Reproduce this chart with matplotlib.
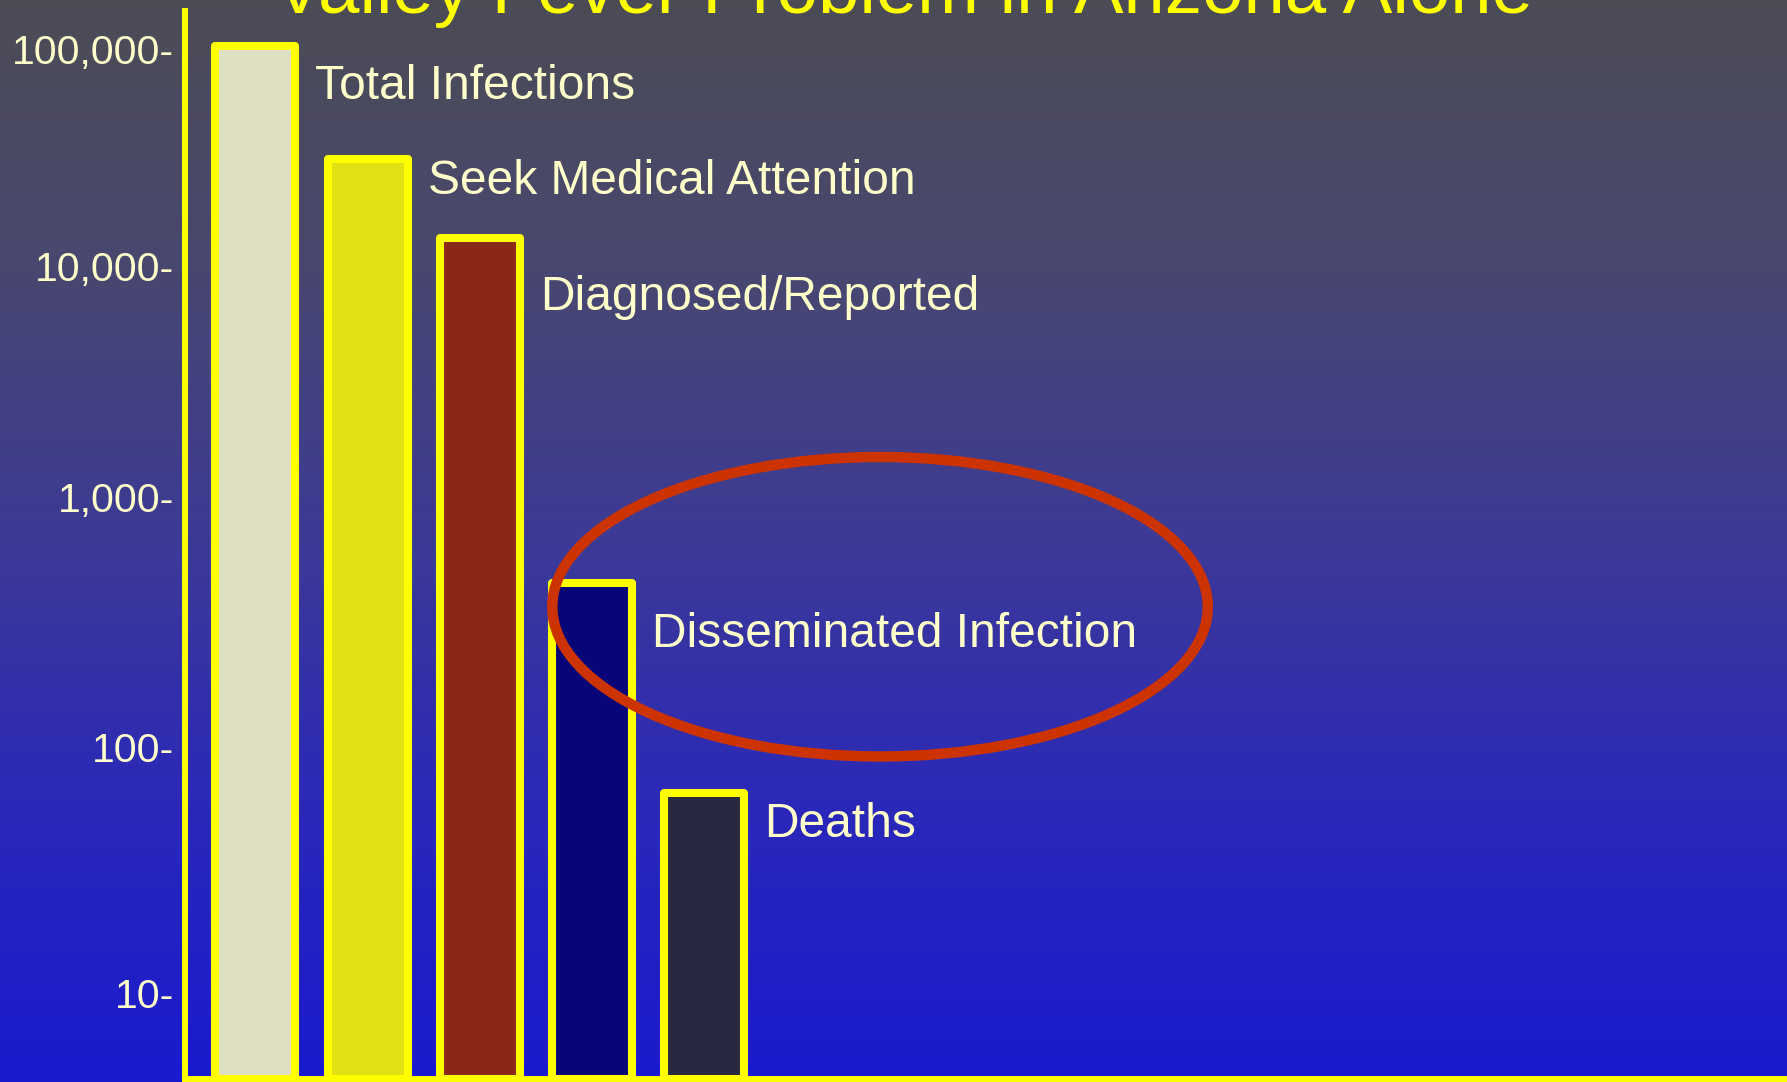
import numpy as np
import matplotlib
matplotlib.use("Agg")
import matplotlib.pyplot as plt
from matplotlib.patches import Ellipse
from matplotlib.colors import LinearSegmentedColormap
from matplotlib.ticker import NullLocator
from matplotlib.transforms import ScaledTranslation

plt.rcParams['font.family'] = ['Liberation Sans', 'DejaVu Sans']

# data
title = "Valley Fever Problem in Arizona Alone"
categories = ["Total Infections", "Seek Medical Attention", "Diagnosed/Reported",
              "Disseminated Infection", "Deaths"]
counts = [100000, 30000, 13000, 440, 63]
bar_colors = ["#DFDFC4", "#E0E014", "#8B2716", "#060678", "#282840"]
tick_values = [10, 100, 1000, 10000, 100000]

# the slide's log axis was drawn by hand and the decades are not evenly spaced,
# so log10(value) is mapped piecewise onto height (px above the baseline)
decades = [0, 1, 2, 3, 4, 5, 6]
decade_px = [-158, 88.5, 335, 585, 816.5, 1033, 1249.5]


def fwd(v):
    v = np.clip(np.asarray(v, dtype=float), 1e-3, None)
    return np.interp(np.log10(v), decades, decade_px)


def inv(h):
    return 10 ** np.interp(h, decade_px, decades)


W, H = 1787, 1082
fig = plt.figure(figsize=(W / 100, H / 100), dpi=100)

# background gradient (grey at the top, blue at the bottom)
stops = [(0.0, (76, 76, 86)), (0.25, (72, 71, 112)), (0.5, (60, 58, 150)),
         (0.75, (42, 40, 185)), (1.0, (26, 26, 207))]
cmap = LinearSegmentedColormap.from_list(
    "slide", [(p, tuple(c / 255 for c in rgb)) for p, rgb in stops])
bg = fig.add_axes([0, 0, 1, 1], zorder=0)
bg.imshow(np.linspace(0, 1, 512).reshape(-1, 1), aspect="auto", cmap=cmap,
          extent=[0, 1, 0, 1])
bg.axis("off")

ax = fig.add_axes([185 / W, 3 / H, 1600 / W, 1068 / H], zorder=1)
ax.patch.set_alpha(0)
ax.set_yscale("function", functions=(fwd, inv))
ymin, ymax = inv(0), inv(1068)
ax.set_ylim(ymin, ymax)

x = np.arange(len(categories))
bar_w = 0.713
ax.bar(x, np.array(counts) - ymin, bottom=ymin, width=bar_w, color=bar_colors,
       edgecolor="#FFFF00", linewidth=5.8, joinstyle="round", zorder=2)
ax.set_xlim(-0.628, 13.63)

# category names next to each bar (drop below top in px, to the text baseline)
label_drop = [53, 35, 72, 64, 44]
for xi, v, lab, dy in zip(x, counts, categories, label_drop):
    ax.annotate(lab, xy=(xi + bar_w / 2, v), xytext=(20, -dy),
                textcoords="offset pixels", ha="left", va="baseline",
                fontsize=34.5, color="#FFFFCC", zorder=4)

ax.set_yticks(tick_values)
ax.set_yticklabels([f"{t:,}-" for t in tick_values])
ax.yaxis.set_minor_locator(NullLocator())
ax.tick_params(axis="y", length=0, pad=8, labelsize=29.5, labelcolor="#FFFFCC")
ax.set_xticks([])
nudge = ScaledTranslation(0, -3 / 100, fig.dpi_scale_trans)
for lab in ax.get_yticklabels():
    lab.set_transform(lab.get_transform() + nudge)

for side in ["top", "right"]:
    ax.spines[side].set_visible(False)
for side in ["left", "bottom"]:
    ax.spines[side].set_color("#FFFF00")
    ax.spines[side].set_linewidth(4.3)
    ax.spines[side].set_zorder(3)

# highlight around disseminated infection
ax.add_patch(Ellipse((0.4344, 0.4422), 0.4097, 0.2804, transform=ax.transAxes,
                     fill=False, edgecolor="#CC3300", linewidth=7.5, zorder=5,
                     clip_on=False))

fig.text(274 / W, 1 - 13 / H, title, ha="left", va="baseline",
         fontsize=53.6, color="#FFFF00")

fig.savefig("out.png", dpi=100)
